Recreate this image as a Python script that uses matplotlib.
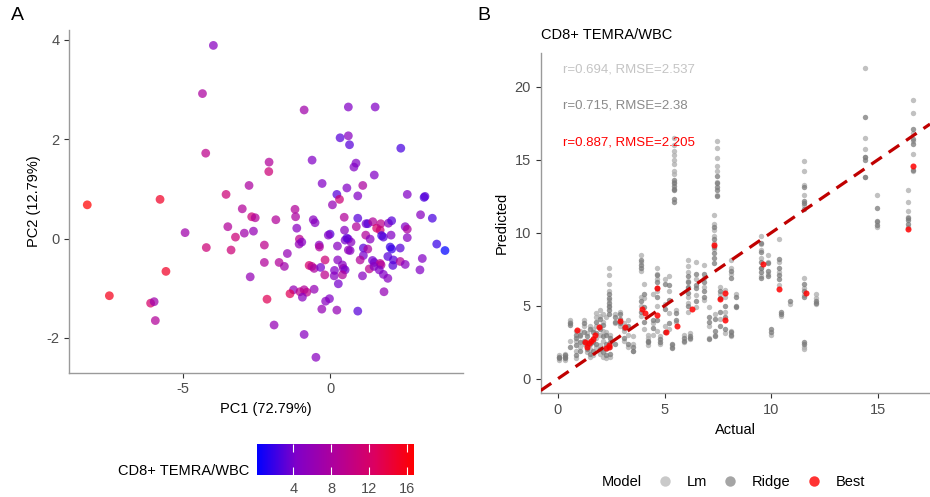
import numpy as np
import matplotlib.pyplot as plt
from matplotlib.colors import LinearSegmentedColormap, Normalize
from matplotlib.lines import Line2D

plt.rcParams['font.family'] = ['Liberation Sans', 'DejaVu Sans']
plt.rcParams['axes.unicode_minus'] = False

# ---- panel A: PCA scores coloured by CD8+ TEMRA/WBC ----
pc1 = [-3.96, -4.33, -0.88, 0.62, 1.53, 0.34, 0.62, 0.66, 2.40, -4.22, -0.61, -2.07, -2.08,
       0.88, 0.81, 1.50, -0.27, -2.75, 1.11, 0.23, 0.57, -3.53, 0.94, 2.62, 3.19, 3.22,
       -8.24, -5.77, 0.08, 0.32, -2.98, -1.19, -1.17, -2.66, -2.54, -1.84, -0.57, -0.51,
       0.48, 0.94, 3.07, 3.47, -3.47, -4.92, -2.60, -2.91, -3.21, -1.13, 0.49, 0.89, 1.22,
       1.28, 1.45, 1.58, 1.72, 1.70, 1.98, 2.09, 2.55, 2.62, 2.62, 0.00, -0.06, 0.51, 0.62,
       0.71, 1.21, 1.36, 1.75, 1.81, 2.07, 3.62, 3.90, -1.04, -1.05, -0.96, -2.23, -0.37,
       -0.36, 0.25, -4.20, -3.36, 0.62, 0.68, 1.13, 1.28, 2.04, 2.09, 2.38, 1.13, 1.96, 3.13,
       -1.45, -0.17, 0.26, 1.02, 1.44, 1.50, 1.70, 1.73, 2.15, 2.13, 2.38, 2.55, -2.23, -1.73,
       -1.55, -0.71, -0.62, -0.54, -0.32, 0.42, 0.45, 0.51, 0.15, 1.33, 1.49, 1.67, 1.81,
       1.96, 3.05, -5.57, -2.71, -0.18, 0.14, 0.42, 1.10, 0.28, -1.24, -0.88, -0.54, -1.36,
       -1.02, -0.79, -0.94, 1.83, -7.49, -0.02, -0.15, -2.14, -6.09, -5.97, -0.28, 0.23,
       0.94, -5.93, -1.90, -0.88, -0.48, 0.57]
pc2 = [3.89, 2.92, 2.59, 2.65, 2.65, 2.03, 2.07, 1.89, 1.82, 1.72, 1.58, 1.54, 1.35,
       1.52, 1.44, 1.28, 1.11, 1.07, 1.07, 0.89, 1.02, 0.89, 0.86, 0.89, 0.83, 0.85,
       0.68, 0.79, 0.68, 0.79, 0.60, 0.59, 0.44, 0.44, 0.42, 0.38, 0.38, 0.32,
       0.43, 0.41, 0.48, 0.41, 0.24, 0.12, 0.15, 0.11, 0.03, 0.21, 0.17, 0.24, 0.30,
       0.30, 0.34, 0.21, 0.30, 0.17, 0.31, 0.36, 0.24, 0.19, 0.02, 0.09, 0.07, -0.03, -0.01,
       -0.07, 0.07, -0.01, 0.06, 0.03, 0.07, -0.11, -0.24, -0.01, -0.11, -0.07, -0.13, -0.13,
       -0.17, -0.15, -0.18, -0.23, -0.23, -0.24, -0.19, -0.21, -0.17, -0.21, -0.19, -0.34, -0.36, -0.40,
       -0.30, -0.43, -0.43, -0.43, -0.44, -0.48, -0.50, -0.53, -0.43, -0.54, -0.46, -0.52, -0.48, -0.48,
       -0.56, -0.54, -0.56, -0.60, -0.58, -0.53, -0.60, -0.63, -0.64, -0.61, -0.56, -0.63, -0.72,
       -0.80, -0.63, -0.66, -0.77, -0.73, -0.75, -0.73, -0.75, -0.91, -1.03, -1.03, -1.02, -1.11,
       -1.07, -1.08, -1.18, -1.07, -1.15, -1.21, -1.26, -1.22, -1.30, -1.27, -1.42, -1.44,
       -1.46, -1.65, -1.74, -1.93, -2.39, 0.01]
temra = [5, 8, 7, 4.5, 4.5, 3, 5, 3, 2.5, 9.5, 4.5, 8.5, 11,
         4.5, 4.5, 4.5, 4.5, 8, 8, 3, 4.5, 11, 4.5, 4.5, 2.5, 3,
         16.7, 15, 6, 11, 8.5, 8.5, 8, 11, 8.5, 8.5, 5, 5,
         8.5, 3, 5, 2.5, 8.5, 7, 6, 7, 11, 5, 5, 8.5, 4,
         3, 8.5, 12, 9.5, 11, 5, 3, 4.5, 8, 5, 3, 4.5, 4, 5,
         5, 8.5, 5, 2, 3, 4.5, 2, 0.2, 9.5, 6, 5, 9.5, 5,
         8.5, 5, 11, 11, 6, 5, 3, 8, 2, 2, 3, 4, 3, 4.5,
         6, 11, 5, 8.5, 4, 4, 9.5, 8.5, 3, 3, 8.5, 5, 8.5, 8.5,
         7, 12, 9.5, 8, 4, 5, 6, 4, 4.5, 9.5, 5, 4.5, 4.5,
         5, 4.5, 15, 6, 9.5, 5, 8.5, 5, 4, 6, 8.5, 6, 13,
         9.5, 9.5, 5, 6, 15.5, 4.5, 5, 13, 12, 7, 6, 6,
         3, 8.5, 6, 5, 5, 3]

# ---- panel B: actual vs predicted ----
actual_cols = [0.05, 0.35, 0.55, 0.85, 1.05, 1.2, 1.35, 1.5, 1.65, 1.8, 1.95, 2.1, 2.25, 2.38,
               2.45, 2.65, 2.9, 3.1, 3.3, 3.5, 3.9, 4.05, 4.2, 4.45, 4.64, 4.8, 5.0, 5.22,
               5.35, 5.45, 5.55, 5.9, 6.08, 6.2, 6.47, 6.86, 7.1, 7.33, 7.35, 7.45, 7.6, 7.84,
               8.1, 8.35, 9.5, 9.85, 10.0, 10.34, 10.45, 10.9, 11.55, 12.1, 14.4, 14.95,
               16.4, 16.63]
lm_pred = [[1.3, 1.5, 1.6], [1.3, 1.6, 1.7], [2.6, 3.9, 4.0], [1.4, 1.9, 2.6, 3.3],
           [2.2, 2.9, 3.3], [2.4, 3.6, 4.0], [1.8, 2.6, 3.1], [1.5, 2.0, 3.6], [1.6, 2.8, 3.4],
           [2.2, 2.8, 3.6, 4.2, 4.5], [1.7, 2.3, 3.0, 3.6, 4.3, 4.7], [1.5, 2.1, 2.6, 3.3, 3.9, 4.4],
           [1.4, 2.0, 3.2, 4.2], [4.9, 5.4, 6.0, 6.5, 7.1, 7.6], [1.5, 2.2, 3.0], [3.8, 4.4],
           [3.6, 4.6], [2.6, 3.3, 3.8], [2.2, 3.0, 4.0], [2.4, 2.9, 1.9],
           [4.3, 5.0, 5.6, 7.4, 8.0, 8.5], [3.4, 5.5, 6.5], [2.3, 2.8, 3.0], [3.0, 3.8, 5.8],
           [3.3, 5.0, 6.0, 6.8, 7.2, 7.6], [2.4, 2.9], [3.6, 5.1, 6.8], [3.4, 4.5, 6.0, 7.0],
           [2.2, 2.3], [13.5, 14.0, 14.2, 14.7, 15.0, 15.3, 15.6, 16.0, 16.5], [3.9, 4.7],
           [2.5, 3.0], [4.6, 5.2, 5.6, 6.2, 6.7, 7.3, 7.7, 8.1], [2.7, 3.1], [4.9, 5.7, 6.8, 8.0],
           [5.4, 6.3, 6.9, 7.8], [2.8, 3.6, 4.9], [8.9, 9.3, 9.8, 10.2, 10.6, 11.2], [3.0, 4.4],
           [12.6, 13.5, 14.2, 14.6, 15.1, 15.8, 16.3], [4.1, 5.8, 6.3], [3.1, 4.6, 5.6, 6.1],
           [2.9, 3.3, 7.2, 7.6, 8.1], [5.8], [7.0, 7.6, 8.3, 8.8, 9.2, 9.8], [7.2, 8.0, 8.5],
           [3.0], [6.4, 7.3, 8.0, 9.6], [4.3], [5.1],
           [2.0, 2.2, 5.7, 6.2, 6.9, 11.9, 12.6, 13.3, 14.2, 14.9], [5.1, 5.5, 5.8],
           [13.8, 15.2, 15.7, 16.5, 21.3], [10.4, 10.7, 12.6], [10.4, 11.1, 11.5, 12.1, 12.9],
           [14.2, 15.4, 16.3, 16.8, 18.2, 19.1]]
ridge_pred = [[1.4, 1.5], [1.4, 1.5, 1.6], [2.2, 3.7, 3.8], [1.6, 2.3, 2.8, 3.0],
              [1.9, 2.5, 3.0], [2.6, 3.2, 3.8], [2.0, 2.3, 2.9], [1.7, 2.4, 3.4], [1.9, 2.5, 3.2],
              [2.4, 3.1, 3.9], [2.0, 3.4, 4.1], [1.8, 2.9, 3.7], [1.6, 2.4, 3.0],
              [4.4, 4.7, 5.0, 5.2, 5.5, 5.8], [1.7, 2.5, 2.8], [2.4, 3.9, 4.2], [3.8, 4.1, 4.4],
              [2.8, 3.5], [2.4, 3.6], [1.9, 2.2], [4.6, 5.3, 7.6, 7.8, 8.1], [3.9, 4.9, 5.8],
              [2.5, 2.6], [3.5, 4.0], [4.0, 5.6, 6.2, 6.6, 7.1], [2.5, 2.7], [3.2, 4.8, 6.5],
              [3.8, 5.4, 6.4], [2.1, 2.4], [12.1, 12.3, 12.9, 13.0, 13.2, 13.4, 13.6], [4.0, 4.5],
              [2.6, 2.8], [5.0, 5.9, 6.3, 6.6, 7.0], [2.8, 2.9], [5.3, 6.2, 6.4, 7.2],
              [5.6, 6.0, 6.6, 7.2], [2.7, 3.9, 4.2], [7.9, 8.3, 8.6, 9.0, 9.6, 10.4],
              [2.9, 3.3, 4.1], [12.5, 12.9, 13.1, 13.4, 13.9], [3.6, 4.6, 5.5, 6.0],
              [3.4, 4.2, 5.0], [3.0, 3.2, 6.9, 7.4], [4.9, 5.0, 5.6],
              [6.9, 7.3, 7.6, 8.0, 8.7, 9.3], [7.0, 7.4, 7.9], [3.2, 3.4], [6.8, 7.1, 7.6, 8.2],
              [4.4, 4.6], [5.3], [2.4, 2.5, 5.6, 6.0, 6.5, 11.6, 12.0, 12.2, 13.1], [5.2, 5.3],
              [13.8, 15.0, 15.2, 17.9], [10.5, 10.8, 11.7], [10.6, 10.9, 11.0],
              [14.3, 16.1, 16.4, 17.1]]
best_actual = [0.9, 1.25, 1.34, 1.45, 1.55, 1.64, 1.75, 1.94, 2.23, 2.38, 2.41, 2.91, 3.14,
               3.94, 4.06, 4.66, 4.63, 5.05, 5.56, 6.28, 7.33, 7.58, 7.84, 7.84, 9.59, 10.38,
               11.63, 16.41, 16.63]
best_pred = [3.33, 2.49, 2.19, 2.42, 2.6, 2.69, 3.01, 3.52, 2.1, 2.19, 2.28, 3.93, 3.52,
             4.75, 4.47, 6.23, 4.36, 3.17, 3.61, 4.79, 9.16, 5.46, 5.84, 4.0, 7.83, 6.16,
             5.84, 10.23, 14.57]
stat_text = ['r=0.694, RMSE=2.537', 'r=0.715, RMSE=2.38', 'r=0.887, RMSE=2.205']
stat_y = [21.16, 18.68, 16.16]
stat_col = ['#C4C4C4', '#8A8A8A', '#FF0000']


def style(ax):
    for s in ['top', 'right']:
        ax.spines[s].set_visible(False)
    for s in ['left', 'bottom']:
        ax.spines[s].set_color('#9A9A9A')
        ax.spines[s].set_linewidth(1.0)
    ax.tick_params(colors='#333333', labelcolor='#4D4D4D', labelsize=10.5, length=3.5, width=0.8)


fig = plt.figure(figsize=(9.3, 4.97), dpi=100)

# colour scale close to ggplot's blue -> red gradient
cmap = LinearSegmentedColormap.from_list(
    'br', [(0, '#0000FF'), (0.25, '#8000C8'), (0.5, '#B0009A'), (0.75, '#DC0060'), (1, '#FF0000')])
norm = Normalize(min(temra) - 0.05, max(temra))

axA = fig.add_axes([0.0745, 0.2501, 0.423, 0.6895])
sc = axA.scatter(pc1, pc2, c=temra, cmap=cmap, norm=norm, s=40, alpha=0.72, linewidths=0)
axA.set_xlim(-8.85, 4.5)
axA.set_ylim(-2.70, 4.20)
axA.set_xticks([-5, 0])
axA.set_yticks([-2, 0, 2, 4])
axA.set_xlabel('PC1 (72.79%)', fontsize=10.5, labelpad=4)
axA.set_ylabel('PC2 (12.79%)', fontsize=10.5, labelpad=4)
style(axA)

cax = fig.add_axes([256.7 / 930, 1 - 475 / 497, 157.3 / 930, 31 / 497])
cb = fig.colorbar(sc, cax=cax, orientation='horizontal')
cb.solids.set_alpha(1)
cb.outline.set_visible(False)
cb.set_ticks([4, 8, 12, 16])
cax.tick_params(axis='x', direction='in', color='white', length=6, width=0.8,
                top=True, labelcolor='#4D4D4D', labelsize=10.5, pad=5)
fig.text(249 / 930, 1 - 470.7 / 497, 'CD8+ TEMRA/WBC', ha='right', va='center', fontsize=10.5)

# panel B
axB = fig.add_axes([0.5814, 0.2087, 0.4186, 0.6841])
lm_x = np.concatenate([[a] * len(p) for a, p in zip(actual_cols, lm_pred)])
lm_y = np.concatenate(lm_pred)
rd_x = np.concatenate([[a] * len(p) for a, p in zip(actual_cols, ridge_pred)])
rd_y = np.concatenate(ridge_pred)
axB.scatter(lm_x, lm_y, s=15, color='#ADADAD', alpha=0.75, linewidths=0, zorder=2)
axB.scatter(rd_x, rd_y, s=15, color='#7A7A7A', alpha=0.75, linewidths=0, zorder=2)
axB.scatter(best_actual, best_pred, s=19, color='#FF0000', alpha=0.85, linewidths=0, zorder=3)
axB.axline((0, 0), slope=1, color='#C00000', lw=2.3, dashes=(4, 2.6), zorder=4)
for t, yy, cc in zip(stat_text, stat_y, stat_col):
    axB.text(0.25, yy, t, color=cc, fontsize=9.5, ha='left', va='center')
axB.set_xlim(-0.81, 17.44)
axB.set_ylim(-1.0, 22.29)
axB.set_xticks([0, 5, 10, 15])
axB.set_yticks([0, 5, 10, 15, 20])
axB.set_xlabel('Actual', fontsize=10.5, labelpad=4)
axB.set_ylabel('Predicted', fontsize=10.5, labelpad=4)
axB.set_title('CD8+ TEMRA/WBC', loc='left', fontsize=10.5, pad=10)
style(axB)

handles = [Line2D([], [], ls='', marker='o', ms=7.5, mec='none', mfc=c, alpha=a)
           for c, a in [('#B3B3B3', 0.7), ('#7F7F7F', 0.7), ('#FF0000', 0.8)]]
fig.text(602 / 930, 1 - 481.7 / 497, 'Model', ha='left', va='center', fontsize=10.5)
fig.legend(handles, ['Lm', 'Ridge', 'Best'], ncol=3, loc='center left',
           bbox_to_anchor=(656 / 930, 1 - 481.7 / 497), frameon=False, fontsize=10.5,
           handlelength=1.2, handletextpad=0.9, columnspacing=1.0, borderaxespad=0, borderpad=0)

fig.text(17 / 930, 1 - 16 / 497, 'A', ha='center', va='center', fontsize=14)
fig.text(484 / 930, 1 - 16 / 497, 'B', ha='center', va='center', fontsize=14)

fig.savefig('out.png', dpi=100)
